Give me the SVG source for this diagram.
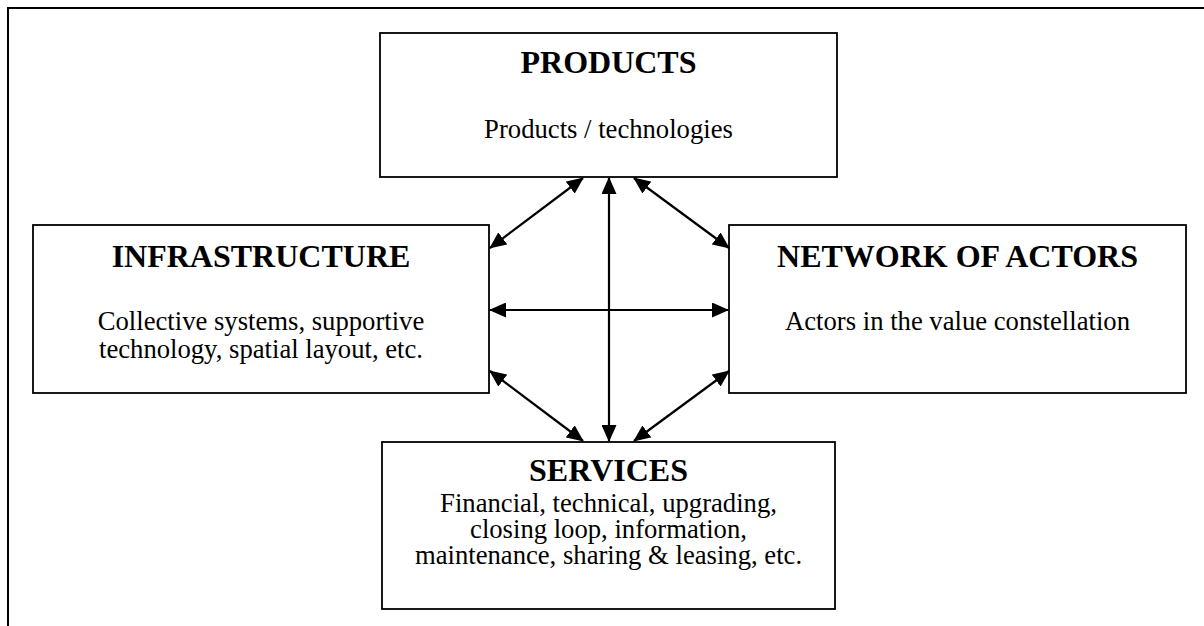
<svg xmlns="http://www.w3.org/2000/svg" width="1204" height="626" viewBox="0 0 1204 626">
  <style>
    .box { fill: #ffffff; stroke: #000000; stroke-width: 1.8; }
    .frame { fill: none; stroke: #000000; stroke-width: 2; }
    .title { font-family: "Liberation Serif", "Times New Roman", serif; font-size: 32px; font-weight: bold; text-anchor: middle; fill: #000000; }
    .body { font-family: "Liberation Serif", "Times New Roman", serif; font-size: 26.67px; text-anchor: middle; fill: #000000; }
    .link { fill: none; stroke: #000000; stroke-width: 2.2; marker-start: url(#head); marker-end: url(#head); }
  </style>
  <defs>
    <marker id="head" markerUnits="userSpaceOnUse" markerWidth="17" markerHeight="15" viewBox="0 0 17 15" refX="16" refY="7.5" orient="auto-start-reverse">
      <path d="M0,0 L17,7.5 L0,15 Z" fill="#000000"/>
    </marker>
  </defs>

  <rect width="1204" height="626" fill="#ffffff"/>

  <!-- page frame, open on the right and bottom -->
  <path class="frame" d="M8,626 V8 H1204"/>

  <g id="products">
    <rect class="box" x="380" y="33" width="457" height="144"/>
    <text class="title" x="608.5" y="73">PRODUCTS</text>
    <text class="body" x="608.5" y="138">Products / technologies</text>
  </g>

  <g id="infrastructure">
    <rect class="box" x="33" y="225" width="456" height="168"/>
    <text class="title" x="261" y="267">INFRASTRUCTURE</text>
    <text class="body" x="261" y="330">Collective systems, supportive</text>
    <text class="body" x="261" y="358">technology, spatial layout, etc.</text>
  </g>

  <g id="network-of-actors">
    <rect class="box" x="729" y="225" width="457" height="168"/>
    <text class="title" x="957.5" y="267">NETWORK OF ACTORS</text>
    <text class="body" x="957.5" y="330">Actors in the value constellation</text>
  </g>

  <g id="services">
    <rect class="box" x="382" y="442" width="453" height="167"/>
    <text class="title" x="608.5" y="481">SERVICES</text>
    <text class="body" x="608.5" y="512">Financial, technical, upgrading,</text>
    <text class="body" x="608.5" y="538">closing loop, information,</text>
    <text class="body" x="608.5" y="564">maintenance, sharing &amp; leasing, etc.</text>
  </g>

  <g id="connectors">
    <line class="link" x1="609" y1="178" x2="609" y2="441"/>
    <line class="link" x1="490" y1="310" x2="728" y2="310"/>
    <line class="link" x1="583" y1="178" x2="490" y2="248"/>
    <line class="link" x1="634" y1="178" x2="729" y2="248"/>
    <line class="link" x1="490" y1="371" x2="583" y2="441"/>
    <line class="link" x1="729" y1="371" x2="634" y2="441"/>
  </g>
</svg>
